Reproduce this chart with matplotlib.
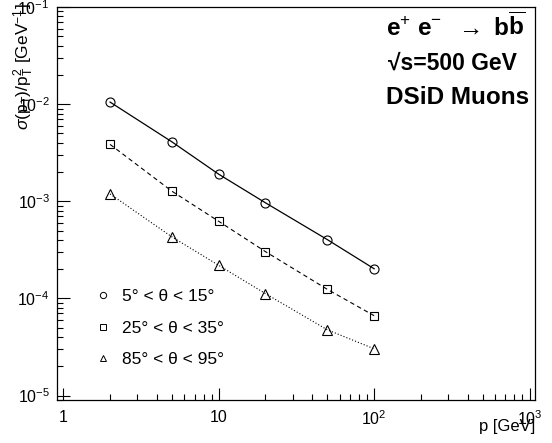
import matplotlib
matplotlib.use('Agg')
import matplotlib.pyplot as plt
from matplotlib.lines import Line2D

# datos del grafico
p_gev = [2, 5, 10, 20, 50, 100]
sigma_5_15 = [0.0105, 0.00409, 0.0019, 0.000964, 0.000403, 0.000202]
sigma_25_35 = [0.00385, 0.00127, 0.000622, 0.000303, 0.000124, 0.0000664]
sigma_85_95 = [0.00119, 0.00043, 0.000219, 0.000112, 0.0000475, 0.0000303]
etiquetas = ['5° < θ < 15°', '25° < θ < 35°', '85° < θ < 95°']
xticks = [1, 10, 100, 1000]
xticklabels = ['1', '10', r'$10^{2}$', r'$10^{3}$']
yticks = [1e-5, 1e-4, 1e-3, 1e-2, 1e-1]
yticklabels = [r'$10^{-5}$', r'$10^{-4}$', r'$10^{-3}$', r'$10^{-2}$', r'$10^{-1}$']

plt.rcParams['font.family'] = ['Liberation Sans', 'DejaVu Sans']
plt.rcParams['mathtext.fontset'] = 'custom'
plt.rcParams['mathtext.rm'] = 'Liberation Sans'
plt.rcParams['mathtext.it'] = 'Liberation Sans:italic'
plt.rcParams['mathtext.bf'] = 'Liberation Sans:bold'

fig = plt.figure(figsize=(5.52, 4.43), dpi=100)
ax = fig.add_axes([56.7 / 552, 43 / 443, (535.3 - 56.7) / 552, (400 - 7) / 443])

ax.plot(p_gev, sigma_5_15, color='black', lw=0.9, ls='-',
        marker='o', ms=6.5, mfc='none', mec='black', mew=0.8)
ax.plot(p_gev, sigma_25_35, color='black', lw=0.8, ls=(0, (4, 3)),
        marker='s', ms=6, mfc='none', mec='black', mew=0.8)
ax.plot(p_gev, sigma_85_95, color='black', lw=0.8, ls=(0, (1, 1.8)),
        marker='^', ms=6.5, mfc='none', mec='black', mew=0.8)

ax.set_xscale('log')
ax.set_yscale('log')
ax.set_xlim(0.907, 1089)
ax.set_ylim(9.0e-6, 0.1)

ax.set_xticks(xticks)
ax.set_xticklabels(xticklabels)
ax.set_yticks(yticks)
ax.set_yticklabels(yticklabels)
ax.tick_params(which='major', direction='in', length=9, width=0.8, labelsize=11.5)
ax.tick_params(which='minor', direction='in', length=4.5, width=0.8)
ax.tick_params(axis='x', which='major', pad=7)
ax.tick_params(axis='y', which='major', pad=5)
for lado in ax.spines.values():
    lado.set_linewidth(0.9)

# leyenda
handles = [Line2D([], [], ls='none', marker=m, ms=4.5, mfc='none', mec='black', mew=0.7)
           for m in ['o', 's', '^']]
ax.legend(handles, etiquetas, loc='upper left', bbox_to_anchor=(94.6 / 552, 1 - 289 / 443),
          bbox_transform=fig.transFigure, frameon=False, fontsize=12.5,
          handlelength=1.0, handletextpad=0.6, labelspacing=0.95,
          borderpad=0, borderaxespad=0)

# textos
fig.text(24 / 552, 1 - 3 / 443, r'$\sigma(\mathrm{p}_{\mathrm{T}})/\mathrm{p}_{\mathrm{T}}^{2}$ [GeV$^{-1}$]',
         rotation=90, ha='center', va='top', fontsize=12.5)
fig.text(535 / 552, 1 - 427 / 443, 'p [GeV]', ha='right', va='center', fontsize=12)

fig.text(386 / 552, 1 - 27 / 443, r'e$^{+}$ e$^{-}$  $\rightarrow$ b$\overline{\mathbf{b}}$',
         ha='left', va='center', fontsize=17.5, fontweight='bold')
fig.text(388 / 552, 1 - 63 / 443, '√s=500 GeV', ha='left', va='center',
         fontsize=16.5, fontweight='bold')
fig.text(386 / 552, 1 - 97 / 443, 'DSiD Muons', ha='left', va='center',
         fontsize=17.5, fontweight='bold')

fig.savefig('out.png', dpi=100)
